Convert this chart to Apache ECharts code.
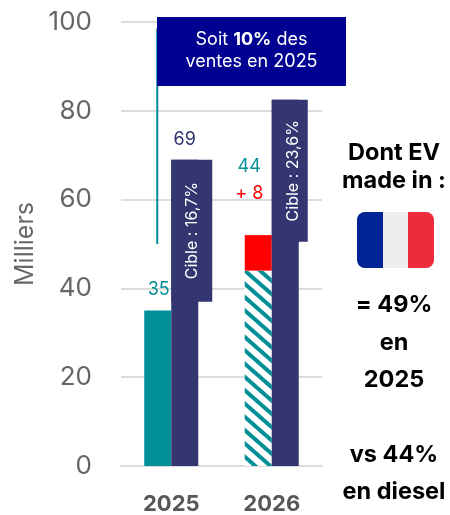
<!DOCTYPE html>
<html><head><meta charset="utf-8">
<style>html,body{margin:0;padding:0;background:#fff}#c{width:450px;height:515px}</style>
<script src="https://cdn.jsdelivr.net/npm/echarts@6/dist/echarts.min.js"></script>
</head><body><div id="c"></div>
<script>
const categories = ['2025', '2026'];
const yTicks = { min: 0, max: 100, interval: 20 };
const soldSolid = [35, null];
const soldProjected = [null, 44];
const soldExtra = [null, 8];
const targets = [69, 82.5];
const targetBoxBottoms = [37, 50.5];
const targetLabels = ['Cible : 16,7%', 'Cible : 23,6%'];
const bracketRange = [50, 98.5];
const FONT = 'Inter';
const TEAL = '#008f96', NAVY = '#333670', RED = '#ff0000';
const BW = 27;

const chart = echarts.init(document.getElementById('c'), null, { renderer: 'canvas' });
const boxWidths = [41, 36], boxText = [21, 21];
const numLabel = { show: true, fontFamily: FONT, fontSize: 18 };

function txt(t, y, x) {
  return { type: 'text', x: x || 394, y, z: 20,
    style: { text: t, x: 0, y: 0, align: 'center', verticalAlign: 'middle', fill: '#000',
      font: '700 23.5px ' + FONT } };
}

chart.setOption({
  animation: false,
  grid: { left: 121, top: 22, width: 201, height: 445, containLabel: false },
  xAxis: {
    type: 'category', data: categories,
    axisTick: { show: false },
    axisLine: { lineStyle: { color: '#dcdcdc', width: 2 } },
    axisLabel: { color: '#585858', fontFamily: FONT, fontWeight: 700, fontSize: 22, margin: 27 }
  },
  yAxis: {
    type: 'value', min: yTicks.min, max: yTicks.max, interval: yTicks.interval,
    name: 'Milliers', nameLocation: 'middle', nameGap: 83, nameRotate: 90,
    nameTextStyle: { color: '#666', fontFamily: FONT, fontSize: 25 },
    axisLine: { show: false }, axisTick: { show: false },
    axisLabel: { color: '#666', fontFamily: FONT, fontSize: 26, margin: 29, padding: [3, 0, 0, 0] },
    splitLine: { lineStyle: { color: '#dcdcdc', width: 2 } }
  },
  series: [
    { type: 'bar', stack: 'sold', barWidth: BW, barGap: 0, data: soldSolid,
      itemStyle: { color: TEAL },
      label: { ...numLabel, position: 'top', color: TEAL, distance: 12, offset: [1, 0] } },
    { type: 'bar', stack: 'sold', barWidth: BW, data: soldProjected,
      itemStyle: { color: '#fff', decal: { symbol: 'rect', symbolSize: 1, color: TEAL, backgroundColor: '#fff',
        dashArrayX: [[1, 0]], dashArrayY: [3.5, 6], rotation: 0.72 } },
      label: { ...numLabel, position: 'top', color: TEAL, offset: [-9, -90] } },
    { type: 'bar', stack: 'sold', barWidth: BW, data: soldExtra,
      itemStyle: { color: RED },
      label: { ...numLabel, position: 'top', color: RED, offset: [-9, -28], formatter: p => '+ ' + p.value } },
    { type: 'bar', stack: 'target', barWidth: BW, data: targets,
      itemStyle: { color: NAVY }, z: 3,
      label: { show: true, position: 'top', fontFamily: FONT, fontSize: 18, color: NAVY, distance: 11,
        formatter: p => p.dataIndex === 0 ? p.value : '' } },
    { type: 'custom', z: 4, data: categories.map((c, i) => [c, targets[i], targetBoxBottoms[i]]),
      encode: { x: 0, y: [1, 2] },
      renderItem: (params, api) => {
        const i = params.dataIndex;
        const top = api.coord([api.value(0), api.value(1)]);
        const bot = api.coord([api.value(0), api.value(2)]);
        const cx = top[0];
        return { type: 'group', children: [
          { type: 'rect', shape: { x: cx, y: top[1], width: boxWidths[i], height: bot[1] - top[1] },
            style: { fill: NAVY } },
          { type: 'text', x: cx + boxText[i], y: (top[1] + bot[1]) / 2, rotation: Math.PI / 2,
            style: { text: targetLabels[i], fill: '#fff', font: '16px ' + FONT, align: 'center', verticalAlign: 'middle' } }
        ] };
      } },
    { type: 'custom', z: 2, data: [[categories[0], bracketRange[0], bracketRange[1]]],
      encode: { x: 0, y: [1, 2] },
      renderItem: (params, api) => {
        const a = api.coord([api.value(0), api.value(1)]);
        const b = api.coord([api.value(0), api.value(2)]);
        const x = a[0] - 14;
        return { type: 'line', shape: { x1: x, y1: a[1], x2: x, y2: b[1] },
          style: { stroke: TEAL, lineWidth: 2 } };
      } }
  ],
  graphic: [
    { type: 'rect', z: 10, shape: { x: 157, y: 17, width: 189, height: 69 }, style: { fill: '#000091' } },
    { type: 'text', z: 11, x: 251.5, y: 51,
      style: { text: 'Soit {b|10%} des\nventes en 2025', align: 'center', verticalAlign: 'middle',
        fill: '#fff', font: '18px ' + FONT, lineHeight: 22,
        rich: { b: { fontWeight: 700, fontFamily: FONT, fontSize: 18, fill: '#fff', lineHeight: 22 } } } },
    txt('Dont EV', 153), txt('made in :', 181),
    { type: 'group', z: 20, children: [
      { type: 'rect', shape: { x: 357, y: 212, width: 77, height: 56, r: 8 }, style: { fill: '#eeeeee' } },
      { type: 'rect', shape: { x: 357, y: 212, width: 26, height: 56, r: [8, 0, 0, 8] }, style: { fill: '#002395' } },
      { type: 'rect', shape: { x: 408, y: 212, width: 26, height: 56, r: [0, 8, 8, 0] }, style: { fill: '#ee2b3d' } }
    ] },
    txt('= 49%', 305), txt('en', 343), txt('2025', 380), txt('vs 44%', 455), txt('en diesel', 492)
  ]
});
</script></body></html>
